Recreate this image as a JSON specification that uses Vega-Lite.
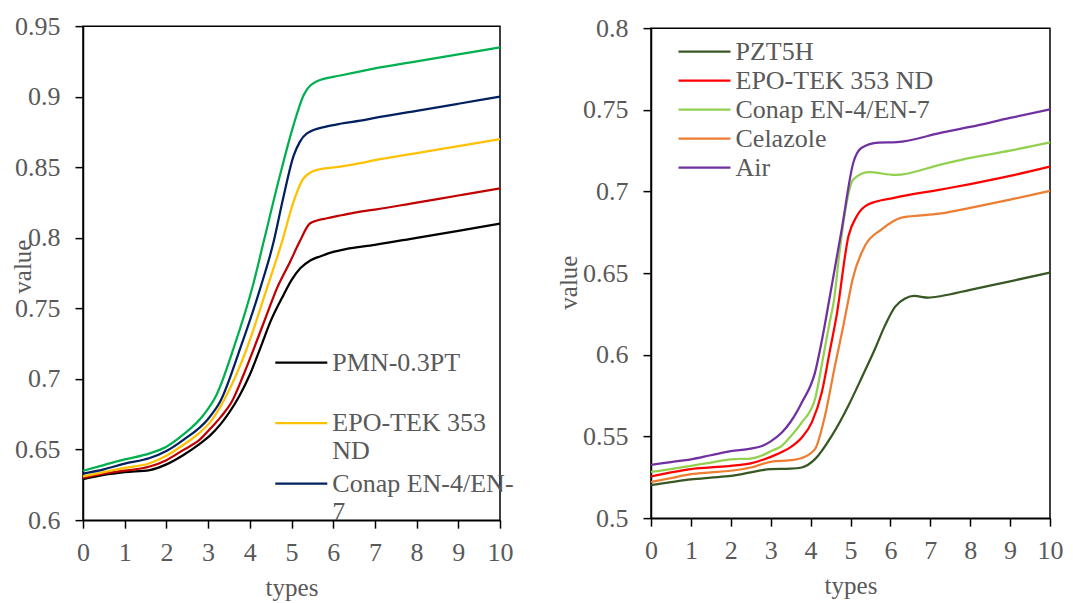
{
  "$schema": "https://vega.github.io/schema/vega-lite/v6.json",
  "background": "white",
  "padding": {"left": 9, "top": 12, "right": 5, "bottom": 0},
  "spacing": 40,
  "center": true,
  "config": {
    "font": "'Liberation Serif', 'Times New Roman', Times, serif",
    "view": {"stroke": "black", "strokeWidth": 1.5},
    "axis": {
      "labelFont": "'Liberation Serif', 'Times New Roman', Times, serif", "labelFontSize": 26, "labelColor": "#595959",
      "titleFont": "'Liberation Serif', 'Times New Roman', Times, serif", "titleFontSize": 25, "titleFontWeight": "normal", "titleColor": "#595959",
      "domainColor": "black", "domainWidth": 1.5, "tickColor": "black", "tickWidth": 1.5, "tickSize": 8, "grid": false
    },
    "axisX": {"labelBaseline": "alphabetic", "labelPadding": 32, "titleBaseline": "alphabetic", "titleY": 75, "labelFlush": false},
    "axisY": {"labelPadding": 15, "titleBaseline": "alphabetic", "labelFlush": false},
    "legend": {
      "labelFont": "'Liberation Serif', 'Times New Roman', Times, serif", "labelFontSize": 26, "labelColor": "#595959", "labelLimit": 400,
      "symbolType": "M-2,0H2", "symbolSize": 676, "symbolStrokeWidth": 2.25, "labelOffset": 16.5, "padding": 0
    }
  },
  "resolve": {"scale": {"color": "independent"}, "legend": {"color": "independent"}},
  "datasets": {
    "left": [
      {"s": "PMN-0.3PT", "x": 0, "y": 0.629}, {"s": "PMN-0.3PT", "x": 0.5, "y": 0.632}, {"s": "PMN-0.3PT", "x": 1, "y": 0.634}, {"s": "PMN-0.3PT", "x": 1.6, "y": 0.6355}, {"s": "PMN-0.3PT", "x": 2, "y": 0.6395}, {"s": "PMN-0.3PT", "x": 2.4, "y": 0.646}, {"s": "PMN-0.3PT", "x": 2.8, "y": 0.654}, {"s": "PMN-0.3PT", "x": 3.05, "y": 0.66}, {"s": "PMN-0.3PT", "x": 3.3, "y": 0.668}, {"s": "PMN-0.3PT", "x": 3.5, "y": 0.676}, {"s": "PMN-0.3PT", "x": 3.75, "y": 0.688}, {"s": "PMN-0.3PT", "x": 4, "y": 0.703}, {"s": "PMN-0.3PT", "x": 4.25, "y": 0.7217}, {"s": "PMN-0.3PT", "x": 4.5, "y": 0.741}, {"s": "PMN-0.3PT", "x": 4.81, "y": 0.7596}, {"s": "PMN-0.3PT", "x": 5, "y": 0.77}, {"s": "PMN-0.3PT", "x": 5.21, "y": 0.7784}, {"s": "PMN-0.3PT", "x": 5.45, "y": 0.784}, {"s": "PMN-0.3PT", "x": 5.7, "y": 0.787}, {"s": "PMN-0.3PT", "x": 6, "y": 0.79}, {"s": "PMN-0.3PT", "x": 6.3, "y": 0.792}, {"s": "PMN-0.3PT", "x": 7, "y": 0.795}, {"s": "PMN-0.3PT", "x": 8, "y": 0.8}, {"s": "PMN-0.3PT", "x": 9, "y": 0.805}, {"s": "PMN-0.3PT", "x": 10, "y": 0.81},
      {"s": "Celazole", "x": 0, "y": 0.63}, {"s": "Celazole", "x": 0.5, "y": 0.633}, {"s": "Celazole", "x": 1, "y": 0.635}, {"s": "Celazole", "x": 1.6, "y": 0.638}, {"s": "Celazole", "x": 2, "y": 0.6425}, {"s": "Celazole", "x": 2.4, "y": 0.6496}, {"s": "Celazole", "x": 2.8, "y": 0.657}, {"s": "Celazole", "x": 3.05, "y": 0.6647}, {"s": "Celazole", "x": 3.3, "y": 0.673}, {"s": "Celazole", "x": 3.57, "y": 0.684}, {"s": "Celazole", "x": 3.85, "y": 0.703}, {"s": "Celazole", "x": 4.1, "y": 0.7217}, {"s": "Celazole", "x": 4.4, "y": 0.745}, {"s": "Celazole", "x": 4.65, "y": 0.7642}, {"s": "Celazole", "x": 4.97, "y": 0.7832}, {"s": "Celazole", "x": 5.19, "y": 0.797}, {"s": "Celazole", "x": 5.45, "y": 0.8103}, {"s": "Celazole", "x": 5.85, "y": 0.8139}, {"s": "Celazole", "x": 6.2, "y": 0.816}, {"s": "Celazole", "x": 6.65, "y": 0.8186}, {"s": "Celazole", "x": 7, "y": 0.82}, {"s": "Celazole", "x": 8, "y": 0.825}, {"s": "Celazole", "x": 9, "y": 0.83}, {"s": "Celazole", "x": 10, "y": 0.835},
      {"s": "EPO-TEK 353 ND", "x": 0, "y": 0.631}, {"s": "EPO-TEK 353 ND", "x": 0.5, "y": 0.634}, {"s": "EPO-TEK 353 ND", "x": 1, "y": 0.637}, {"s": "EPO-TEK 353 ND", "x": 1.6, "y": 0.6403}, {"s": "EPO-TEK 353 ND", "x": 2, "y": 0.6456}, {"s": "EPO-TEK 353 ND", "x": 2.4, "y": 0.6532}, {"s": "EPO-TEK 353 ND", "x": 2.8, "y": 0.662}, {"s": "EPO-TEK 353 ND", "x": 3.05, "y": 0.6694}, {"s": "EPO-TEK 353 ND", "x": 3.4, "y": 0.686}, {"s": "EPO-TEK 353 ND", "x": 3.93, "y": 0.7217}, {"s": "EPO-TEK 353 ND", "x": 4.41, "y": 0.7642}, {"s": "EPO-TEK 353 ND", "x": 4.77, "y": 0.797}, {"s": "EPO-TEK 353 ND", "x": 5.05, "y": 0.8257}, {"s": "EPO-TEK 353 ND", "x": 5.29, "y": 0.8422}, {"s": "EPO-TEK 353 ND", "x": 5.61, "y": 0.8482}, {"s": "EPO-TEK 353 ND", "x": 6.17, "y": 0.8505}, {"s": "EPO-TEK 353 ND", "x": 6.65, "y": 0.8529}, {"s": "EPO-TEK 353 ND", "x": 7, "y": 0.855}, {"s": "EPO-TEK 353 ND", "x": 8, "y": 0.86}, {"s": "EPO-TEK 353 ND", "x": 9, "y": 0.865}, {"s": "EPO-TEK 353 ND", "x": 10, "y": 0.87},
      {"s": "Conap EN-4/EN-7", "x": 0, "y": 0.633}, {"s": "Conap EN-4/EN-7", "x": 0.5, "y": 0.636}, {"s": "Conap EN-4/EN-7", "x": 1, "y": 0.64}, {"s": "Conap EN-4/EN-7", "x": 1.6, "y": 0.644}, {"s": "Conap EN-4/EN-7", "x": 2, "y": 0.649}, {"s": "Conap EN-4/EN-7", "x": 2.4, "y": 0.6567}, {"s": "Conap EN-4/EN-7", "x": 3, "y": 0.6717}, {"s": "Conap EN-4/EN-7", "x": 3.29, "y": 0.684}, {"s": "Conap EN-4/EN-7", "x": 3.77, "y": 0.7217}, {"s": "Conap EN-4/EN-7", "x": 4.25, "y": 0.7642}, {"s": "Conap EN-4/EN-7", "x": 4.57, "y": 0.797}, {"s": "Conap EN-4/EN-7", "x": 4.8, "y": 0.828}, {"s": "Conap EN-4/EN-7", "x": 5.05, "y": 0.858}, {"s": "Conap EN-4/EN-7", "x": 5.2, "y": 0.868}, {"s": "Conap EN-4/EN-7", "x": 5.37, "y": 0.874}, {"s": "Conap EN-4/EN-7", "x": 5.85, "y": 0.879}, {"s": "Conap EN-4/EN-7", "x": 6.2, "y": 0.881}, {"s": "Conap EN-4/EN-7", "x": 6.65, "y": 0.883}, {"s": "Conap EN-4/EN-7", "x": 7, "y": 0.885}, {"s": "Conap EN-4/EN-7", "x": 8, "y": 0.89}, {"s": "Conap EN-4/EN-7", "x": 9, "y": 0.895}, {"s": "Conap EN-4/EN-7", "x": 10, "y": 0.9},
      {"s": "Air", "x": 0, "y": 0.635}, {"s": "Air", "x": 0.5, "y": 0.639}, {"s": "Air", "x": 1, "y": 0.643}, {"s": "Air", "x": 1.6, "y": 0.6473}, {"s": "Air", "x": 2, "y": 0.652}, {"s": "Air", "x": 2.4, "y": 0.6605}, {"s": "Air", "x": 2.89, "y": 0.6745}, {"s": "Air", "x": 3.2, "y": 0.6887}, {"s": "Air", "x": 3.61, "y": 0.7217}, {"s": "Air", "x": 4.09, "y": 0.768}, {"s": "Air", "x": 4.33, "y": 0.797}, {"s": "Air", "x": 4.73, "y": 0.845}, {"s": "Air", "x": 5.05, "y": 0.88}, {"s": "Air", "x": 5.29, "y": 0.901}, {"s": "Air", "x": 5.61, "y": 0.911}, {"s": "Air", "x": 6.17, "y": 0.915}, {"s": "Air", "x": 6.65, "y": 0.918}, {"s": "Air", "x": 7, "y": 0.92}, {"s": "Air", "x": 8, "y": 0.925}, {"s": "Air", "x": 9, "y": 0.93}, {"s": "Air", "x": 10, "y": 0.935}
    ],
    "right": [
      {"s": "PZT5H", "x": 0, "y": 0.5202}, {"s": "PZT5H", "x": 0.5, "y": 0.522}, {"s": "PZT5H", "x": 1, "y": 0.5237}, {"s": "PZT5H", "x": 1.5, "y": 0.5248}, {"s": "PZT5H", "x": 2, "y": 0.5258}, {"s": "PZT5H", "x": 2.5, "y": 0.528}, {"s": "PZT5H", "x": 3, "y": 0.53}, {"s": "PZT5H", "x": 3.5, "y": 0.5303}, {"s": "PZT5H", "x": 3.78, "y": 0.531}, {"s": "PZT5H", "x": 4.11, "y": 0.5361}, {"s": "PZT5H", "x": 4.53, "y": 0.5504}, {"s": "PZT5H", "x": 4.95, "y": 0.569}, {"s": "PZT5H", "x": 5.28, "y": 0.586}, {"s": "PZT5H", "x": 5.61, "y": 0.6034}, {"s": "PZT5H", "x": 5.86, "y": 0.6177}, {"s": "PZT5H", "x": 6.12, "y": 0.6295}, {"s": "PZT5H", "x": 6.37, "y": 0.6345}, {"s": "PZT5H", "x": 6.6, "y": 0.636}, {"s": "PZT5H", "x": 6.95, "y": 0.635}, {"s": "PZT5H", "x": 7.28, "y": 0.636}, {"s": "PZT5H", "x": 8, "y": 0.6398}, {"s": "PZT5H", "x": 9, "y": 0.645}, {"s": "PZT5H", "x": 10, "y": 0.6503},
      {"s": "EPO-TEK 353 ND", "x": 0, "y": 0.5255}, {"s": "EPO-TEK 353 ND", "x": 0.5, "y": 0.528}, {"s": "EPO-TEK 353 ND", "x": 1, "y": 0.53}, {"s": "EPO-TEK 353 ND", "x": 1.5, "y": 0.531}, {"s": "EPO-TEK 353 ND", "x": 2, "y": 0.532}, {"s": "EPO-TEK 353 ND", "x": 2.5, "y": 0.5335}, {"s": "EPO-TEK 353 ND", "x": 3, "y": 0.5375}, {"s": "EPO-TEK 353 ND", "x": 3.28, "y": 0.5405}, {"s": "EPO-TEK 353 ND", "x": 3.5, "y": 0.5435}, {"s": "EPO-TEK 353 ND", "x": 3.78, "y": 0.5494}, {"s": "EPO-TEK 353 ND", "x": 4.03, "y": 0.5586}, {"s": "EPO-TEK 353 ND", "x": 4.28, "y": 0.5769}, {"s": "EPO-TEK 353 ND", "x": 4.49, "y": 0.6034}, {"s": "EPO-TEK 353 ND", "x": 4.65, "y": 0.6238}, {"s": "EPO-TEK 353 ND", "x": 4.95, "y": 0.6727}, {"s": "EPO-TEK 353 ND", "x": 5.16, "y": 0.685}, {"s": "EPO-TEK 353 ND", "x": 5.45, "y": 0.6921}, {"s": "EPO-TEK 353 ND", "x": 6.12, "y": 0.6962}, {"s": "EPO-TEK 353 ND", "x": 7.29, "y": 0.7013}, {"s": "EPO-TEK 353 ND", "x": 8, "y": 0.7045}, {"s": "EPO-TEK 353 ND", "x": 9, "y": 0.7095}, {"s": "EPO-TEK 353 ND", "x": 10, "y": 0.7152},
      {"s": "Conap EN-4/EN-7", "x": 0, "y": 0.5283}, {"s": "Conap EN-4/EN-7", "x": 0.5, "y": 0.53}, {"s": "Conap EN-4/EN-7", "x": 1, "y": 0.532}, {"s": "Conap EN-4/EN-7", "x": 1.5, "y": 0.534}, {"s": "Conap EN-4/EN-7", "x": 2, "y": 0.536}, {"s": "Conap EN-4/EN-7", "x": 2.5, "y": 0.5365}, {"s": "Conap EN-4/EN-7", "x": 2.75, "y": 0.538}, {"s": "Conap EN-4/EN-7", "x": 3, "y": 0.541}, {"s": "Conap EN-4/EN-7", "x": 3.28, "y": 0.5443}, {"s": "Conap EN-4/EN-7", "x": 3.5, "y": 0.55}, {"s": "Conap EN-4/EN-7", "x": 3.78, "y": 0.5586}, {"s": "Conap EN-4/EN-7", "x": 4.11, "y": 0.5728}, {"s": "Conap EN-4/EN-7", "x": 4.32, "y": 0.5993}, {"s": "Conap EN-4/EN-7", "x": 4.47, "y": 0.619}, {"s": "Conap EN-4/EN-7", "x": 4.59, "y": 0.634}, {"s": "Conap EN-4/EN-7", "x": 4.72, "y": 0.662}, {"s": "Conap EN-4/EN-7", "x": 4.86, "y": 0.687}, {"s": "Conap EN-4/EN-7", "x": 5.07, "y": 0.7074}, {"s": "Conap EN-4/EN-7", "x": 5.45, "y": 0.7119}, {"s": "Conap EN-4/EN-7", "x": 6.12, "y": 0.7101}, {"s": "Conap EN-4/EN-7", "x": 7.28, "y": 0.7166}, {"s": "Conap EN-4/EN-7", "x": 8, "y": 0.7205}, {"s": "Conap EN-4/EN-7", "x": 9, "y": 0.725}, {"s": "Conap EN-4/EN-7", "x": 10, "y": 0.73},
      {"s": "Celazole", "x": 0, "y": 0.5222}, {"s": "Celazole", "x": 0.5, "y": 0.5245}, {"s": "Celazole", "x": 1, "y": 0.5269}, {"s": "Celazole", "x": 1.5, "y": 0.528}, {"s": "Celazole", "x": 2, "y": 0.529}, {"s": "Celazole", "x": 2.5, "y": 0.531}, {"s": "Celazole", "x": 3, "y": 0.5345}, {"s": "Celazole", "x": 3.5, "y": 0.5355}, {"s": "Celazole", "x": 3.78, "y": 0.5368}, {"s": "Celazole", "x": 4.11, "y": 0.5422}, {"s": "Celazole", "x": 4.36, "y": 0.5626}, {"s": "Celazole", "x": 4.61, "y": 0.5932}, {"s": "Celazole", "x": 4.82, "y": 0.6177}, {"s": "Celazole", "x": 4.95, "y": 0.634}, {"s": "Celazole", "x": 5.05, "y": 0.646}, {"s": "Celazole", "x": 5.36, "y": 0.6666}, {"s": "Celazole", "x": 5.78, "y": 0.6768}, {"s": "Celazole", "x": 6.28, "y": 0.684}, {"s": "Celazole", "x": 6.78, "y": 0.6854}, {"s": "Celazole", "x": 7.28, "y": 0.6866}, {"s": "Celazole", "x": 8, "y": 0.69}, {"s": "Celazole", "x": 9, "y": 0.695}, {"s": "Celazole", "x": 10, "y": 0.7003},
      {"s": "Air", "x": 0, "y": 0.5326}, {"s": "Air", "x": 0.5, "y": 0.5343}, {"s": "Air", "x": 1, "y": 0.536}, {"s": "Air", "x": 1.5, "y": 0.5385}, {"s": "Air", "x": 2, "y": 0.541}, {"s": "Air", "x": 2.5, "y": 0.5425}, {"s": "Air", "x": 2.8, "y": 0.5443}, {"s": "Air", "x": 3, "y": 0.547}, {"s": "Air", "x": 3.28, "y": 0.5524}, {"s": "Air", "x": 3.5, "y": 0.559}, {"s": "Air", "x": 3.78, "y": 0.5708}, {"s": "Air", "x": 4.11, "y": 0.5891}, {"s": "Air", "x": 4.32, "y": 0.6136}, {"s": "Air", "x": 4.47, "y": 0.634}, {"s": "Air", "x": 4.78, "y": 0.6768}, {"s": "Air", "x": 5.07, "y": 0.7176}, {"s": "Air", "x": 5.28, "y": 0.7268}, {"s": "Air", "x": 5.7, "y": 0.7299}, {"s": "Air", "x": 6.16, "y": 0.7302}, {"s": "Air", "x": 7.28, "y": 0.736}, {"s": "Air", "x": 8, "y": 0.7395}, {"s": "Air", "x": 9, "y": 0.745}, {"s": "Air", "x": 10, "y": 0.7502}
    ]
  },
  "hconcat": [
    {
      "width": 417, "height": 494,
      "data": {"name": "left"},
      "mark": {"type": "line", "interpolate": "monotone", "strokeWidth": 2.25},
      "encoding": {
        "x": {"field": "x", "type": "quantitative", "scale": {"domain": [0, 10], "nice": false},
              "axis": {"values": [0, 1, 2, 3, 4, 5, 6, 7, 8, 9, 10], "title": "types"}},
        "y": {"field": "y", "type": "quantitative", "scale": {"domain": [0.6, 0.95], "nice": false, "zero": false},
              "axis": {"values": [0.6, 0.65, 0.7, 0.75, 0.8, 0.85, 0.9, 0.95], "format": "~g", "title": "value", "titleX": -52.7, "titleY": 240}},
        "color": {"field": "s", "type": "nominal",
                  "scale": {"domain": ["PMN-0.3PT", "Celazole", "EPO-TEK 353 ND", "Conap EN-4/EN-7", "Air"], "range": ["#000000", "#C00000", "#FFC000", "#002060", "#00B050"]},
                  "legend": {"title": null, "values": ["PMN-0.3PT", "EPO-TEK 353 ND", "Conap EN-4/EN-7"], "orient": "none", "legendX": 203.8, "legendY": 322, "rowPadding": 4.5,
                             "labelExpr": "datum.label == 'PMN-0.3PT' ? ['PMN-0.3PT', ' '] : datum.label == 'EPO-TEK 353 ND' ? ['EPO-TEK 353', 'ND'] : ['Conap EN-4/EN-', '7']"}}
      }
    },
    {
      "width": 399, "height": 490,
      "data": {"name": "right"},
      "mark": {"type": "line", "interpolate": "monotone", "strokeWidth": 2.25},
      "encoding": {
        "x": {"field": "x", "type": "quantitative", "scale": {"domain": [0, 10], "nice": false},
              "axis": {"values": [0, 1, 2, 3, 4, 5, 6, 7, 8, 9, 10], "title": "types"}},
        "y": {"field": "y", "type": "quantitative", "scale": {"domain": [0.5, 0.8], "nice": false, "zero": false},
              "axis": {"values": [0.5, 0.55, 0.6, 0.65, 0.7, 0.75, 0.8], "format": "~g", "title": "value", "titleX": -74.3, "titleY": 254}},
        "color": {"field": "s", "type": "nominal",
                  "scale": {"domain": ["PZT5H", "EPO-TEK 353 ND", "Conap EN-4/EN-7", "Celazole", "Air"], "range": ["#385723", "#FF0000", "#92D050", "#ED7D31", "#7030A0"]},
                  "legend": {"title": null, "orient": "none", "legendX": 39, "legendY": 9, "rowPadding": 1}}
      }
    }
  ]
}
